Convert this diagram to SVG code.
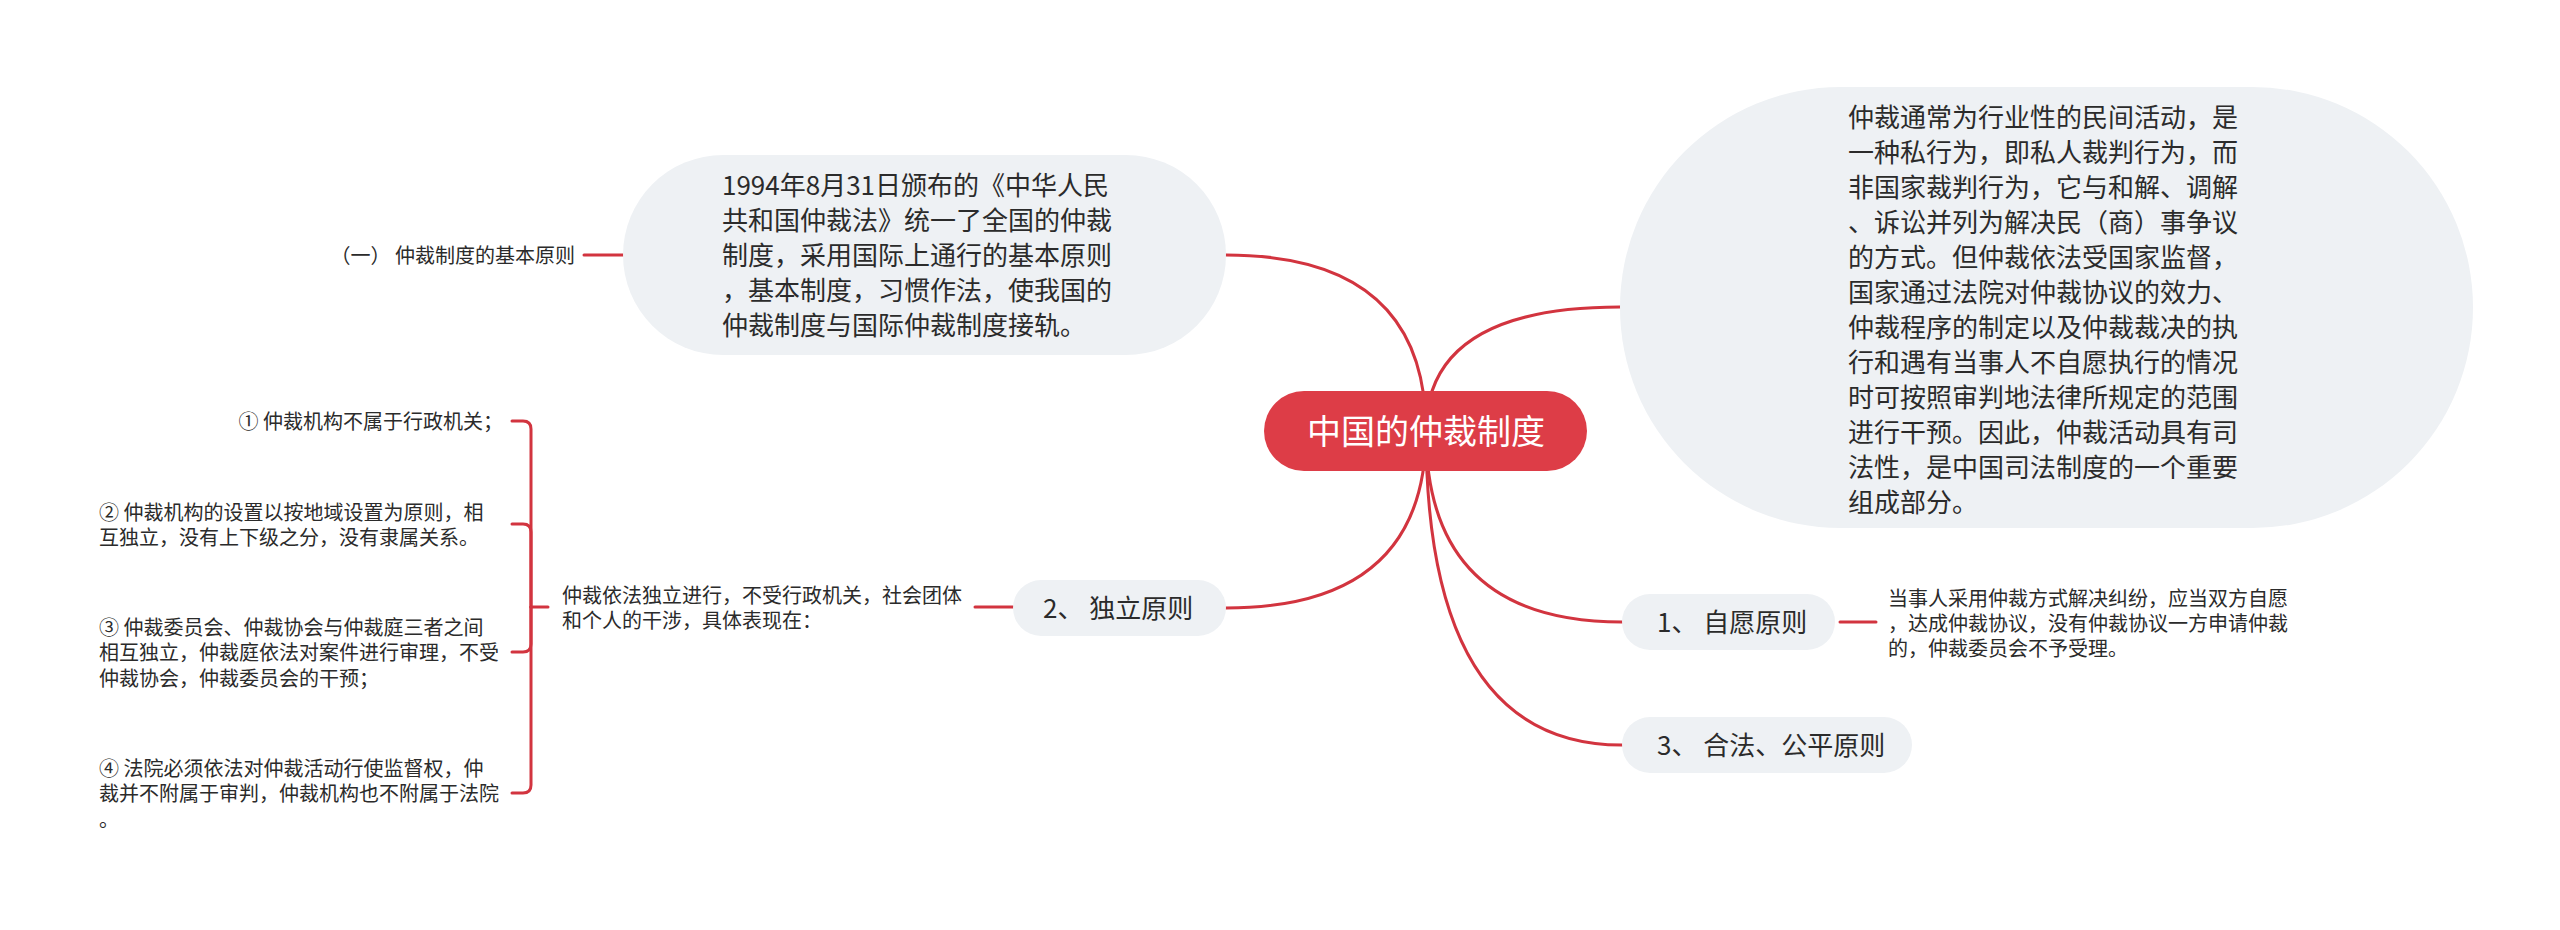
<svg xmlns="http://www.w3.org/2000/svg" width="2560" height="930" viewBox="0 0 2560 930">
<style>
text{font-family:'Noto Sans CJK SC','Noto Sans',sans-serif;fill:#2b2b2b}
.bub{fill:#eef1f4}
.t26{font-size:26px}
.t20{font-size:20px}
.ln{fill:none;stroke:#d2343f;stroke-width:3;stroke-linecap:round}
</style>
<rect width="2560" height="930" fill="#ffffff"/>
<g id="connectors">
<path class="ln" d="M1426 431 Q1426 255 1226 255"/>
<path class="ln" d="M1426 431 Q1426 307 1620 307"/>
<path class="ln" d="M1426 431 Q1426 608 1226 608"/>
<path class="ln" d="M1426 431 Q1426 622 1622 622"/>
<path class="ln" d="M1426 431 Q1426 745 1622 745"/>
<path class="ln" d="M584 255 H623"/>
<path class="ln" d="M975 607 H1013"/>
<path class="ln" d="M1840 622 H1876"/>
<path class="ln" d="M548 607 H531"/>
<path class="ln" d="M531 607 V429 Q531 421 523 421 H512"/>
<path class="ln" d="M531 607 V532 Q531 524 523 524 H512"/>
<path class="ln" d="M531 607 V644 Q531 652 523 652 H512"/>
<path class="ln" d="M531 607 V785 Q531 793 523 793 H512"/>
</g>
<g id="root">
<rect x="1264" y="391" width="323" height="80" rx="40" fill="#dd3d47"/>
<text x="1426" y="444" text-anchor="middle" style="font-size:34px;fill:#ffffff">中国的仲裁制度</text>
</g>
<g id="node-law1994">
<rect class="bub" x="623" y="155" width="603" height="200" rx="100"/>
<text class="t26" x="722" y="195">1994年8月31日颁布的《中华人民</text>
<text class="t26" x="722" y="230">共和国仲裁法》统一了全国的仲裁</text>
<text class="t26" x="722" y="265">制度，采用国际上通行的基本原则</text>
<text class="t26" x="722" y="300">，基本制度，习惯作法，使我国的</text>
<text class="t26" x="722" y="335">仲裁制度与国际仲裁制度接轨。</text>
</g>
<g id="node-basic">
<text class="t20" x="575" y="263" text-anchor="end">（一） 仲裁制度的基本原则</text>
</g>
<g id="node-nature">
<rect class="bub" x="1620" y="87" width="853" height="441" rx="220.5"/>
<text class="t26" x="1848" y="127">仲裁通常为行业性的民间活动，是</text>
<text class="t26" x="1848" y="162">一种私行为，即私人裁判行为，而</text>
<text class="t26" x="1848" y="197">非国家裁判行为，它与和解、调解</text>
<text class="t26" x="1848" y="232">、诉讼并列为解决民（商）事争议</text>
<text class="t26" x="1848" y="267">的方式。但仲裁依法受国家监督，</text>
<text class="t26" x="1848" y="302">国家通过法院对仲裁协议的效力、</text>
<text class="t26" x="1848" y="337">仲裁程序的制定以及仲裁裁决的执</text>
<text class="t26" x="1848" y="372">行和遇有当事人不自愿执行的情况</text>
<text class="t26" x="1848" y="407">时可按照审判地法律所规定的范围</text>
<text class="t26" x="1848" y="442">进行干预。因此，仲裁活动具有司</text>
<text class="t26" x="1848" y="477">法性，是中国司法制度的一个重要</text>
<text class="t26" x="1848" y="512">组成部分。</text>
</g>
<g id="node-independent">
<rect class="bub" x="1013" y="580" width="213" height="56" rx="28"/>
<text class="t26" x="1043" y="618">2、 独立原则</text>
</g>
<g id="node-independent-desc">
<text class="t20" x="562" y="603">仲裁依法独立进行，不受行政机关，社会团体</text>
<text class="t20" x="562" y="628">和个人的干涉，具体表现在：</text>
</g>
<g id="node-item1">
<text class="t20" x="503" y="429" text-anchor="end">① 仲裁机构不属于行政机关；</text>
</g>
<g id="node-item2">
<text class="t20" x="99" y="520">② 仲裁机构的设置以按地域设置为原则，相</text>
<text class="t20" x="99" y="545">互独立，没有上下级之分，没有隶属关系。</text>
</g>
<g id="node-item3">
<text class="t20" x="99" y="635">③ 仲裁委员会、仲裁协会与仲裁庭三者之间</text>
<text class="t20" x="99" y="660">相互独立，仲裁庭依法对案件进行审理，不受</text>
<text class="t20" x="99" y="686">仲裁协会，仲裁委员会的干预；</text>
</g>
<g id="node-item4">
<text class="t20" x="99" y="776">④ 法院必须依法对仲裁活动行使监督权，仲</text>
<text class="t20" x="99" y="801">裁并不附属于审判，仲裁机构也不附属于法院</text>
<text class="t20" x="99" y="827">。</text>
</g>
<g id="node-voluntary">
<rect class="bub" x="1622" y="594" width="213" height="56" rx="28"/>
<text class="t26" x="1657" y="632">1、 自愿原则</text>
</g>
<g id="node-voluntary-desc">
<text class="t20" x="1888" y="606">当事人采用仲裁方式解决纠纷，应当双方自愿</text>
<text class="t20" x="1888" y="631">，达成仲裁协议，没有仲裁协议一方申请仲裁</text>
<text class="t20" x="1888" y="656">的，仲裁委员会不予受理。</text>
</g>
<g id="node-legal">
<rect class="bub" x="1622" y="717" width="290" height="56" rx="28"/>
<text class="t26" x="1657" y="755">3、 合法、公平原则</text>
</g>
</svg>
